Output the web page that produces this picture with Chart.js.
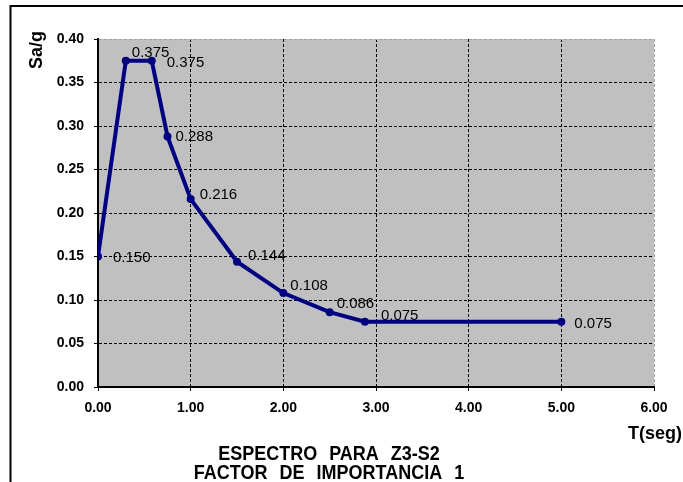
<!DOCTYPE html>
<html>
<head>
<meta charset="utf-8">
<script src="https://cdn.jsdelivr.net/npm/chart.js@4/dist/chart.umd.min.js"></script>
<style>
  html, body { margin: 0; padding: 0; background: #fff; }
  #wrap { width: 683px; height: 482px; position: relative; }
</style>
</head>
<body>
<div id="wrap"><canvas id="myChart" width="683" height="482"></canvas></div>
<script>
const periods = [0.00, 0.30, 0.58, 0.75, 1.00, 1.50, 2.00, 2.50, 2.88, 5.00];
const saValues = [0.150, 0.375, 0.375, 0.288, 0.216, 0.144, 0.108, 0.086, 0.075, 0.075];
const titleLines = ["ESPECTRO PARA Z3-S2", "FACTOR DE IMPORTANCIA 1"];
const xTitle = "T(seg)";
const yTitle = "Sa/g";
// where each value label sits relative to its point (px), like the Excel layout
const labelShift = [[15, 1], [6, -8], [15, 2], [8, 0], [9, -4], [11, -6], [7, -7], [7, -8], [16, -6], [13, 2]];

const canvas = document.getElementById("myChart");
const ctx = canvas.getContext('2d');

const points = [];
for (let i = 0; i < periods.length; i++) {
  points.push({x: periods[i], y: saValues[i]});
}

// gray plot area + outer frame + texts
const decor = {
  id: 'decor',
  beforeDraw(chart) {
    const c = chart.ctx, a = chart.chartArea;
    c.save();
    c.fillStyle = '#fff';
    c.fillRect(0, 0, chart.width, chart.height);
    c.fillStyle = '#c0c0c0';
    c.fillRect(a.left, a.top, a.right - a.left, a.bottom - a.top);
    c.restore();
  },
  afterDraw(chart) {
    const c = chart.ctx;
    c.save();
    // frame
    c.strokeStyle = '#000';
    c.lineWidth = 2;
    c.beginPath();
    c.moveTo(10.5, chart.height + 5);
    c.lineTo(10.5, 6);
    c.lineTo(chart.width + 5, 6);
    c.stroke();
    c.fillStyle = '#000';
    c.font = 'bold 18px "Liberation Sans", Arial, sans-serif';
    c.textAlign = 'center';
    c.textBaseline = 'middle';
    c.wordSpacing = '7px';
    // title a bit taller than wide, as in the original
    const lineY = [454, 473];
    titleLines.forEach((t, i) => {
      c.save();
      c.translate(329, lineY[i]);
      c.scale(1, 1.12);
      c.fillText(t, 0, 0);
      c.restore();
    });
    c.wordSpacing = '0px';
    c.textAlign = 'right';
    c.fillText(xTitle, 682, 434);
    c.translate(37, 50);
    c.rotate(-Math.PI / 2);
    c.textAlign = 'center';
    c.fillText(yTitle, 0, 0);
    c.restore();
  }
};

// value labels next to each point
const valueLabels = {
  id: 'valueLabels',
  afterDatasetsDraw(chart) {
    const c = chart.ctx;
    const meta = chart.getDatasetMeta(0);
    c.save();
    c.fillStyle = '#000';
    c.font = '15px "Liberation Sans", Arial, sans-serif';
    c.textAlign = 'left';
    c.textBaseline = 'middle';
    meta.data.forEach((p, i) => {
      const s = labelShift[i] || [10, -3];
      c.fillText(saValues[i].toFixed(3), p.x + s[0], p.y + s[1]);
    });
    c.restore();
  }
};

const tickFont = {family: '"Liberation Sans", Arial, sans-serif', size: 14, weight: 'bold'};

const myChart = new Chart(ctx, {
  type: 'scatter',
  data: {
    datasets: [{
      label: 'Espectro',
      data: points,
      showLine: true,
      borderColor: '#000080',
      backgroundColor: '#000080',
      borderWidth: 4,
      pointRadius: 2,
      pointHoverRadius: 2,
      tension: 0
    }]
  },
  options: {
    responsive: false,
    animation: false,
    events: [],
    layout: {padding: {top: 39, right: 29, left: 0, bottom: 0}},
    plugins: {legend: {display: false}, tooltip: {enabled: false}},
    scales: {
      x: {
        type: 'linear',
        min: 0, max: 6,
        afterFit(scale) { scale.height = 95; },
        ticks: {stepSize: 1, color: '#000', font: tickFont, padding: 9, maxRotation: 0,
                callback: v => v.toFixed(2)},
        grid: {
          color: c => c.tick && c.tick.value === 6 ? '#a0a0a0' : '#000',
          tickLength: 4,
          tickColor: '#000',
          tickBorderDash: []
        },
        border: {display: true, color: '#000', width: 2, dash: [3, 2]}
      },
      y: {
        min: 0, max: 0.4,
        afterFit(scale) { scale.width = 98; },
        ticks: {stepSize: 0.05, color: '#000', font: tickFont, padding: 10,
                callback: v => v.toFixed(2)},
        grid: {
          color: c => c.tick && Math.abs(c.tick.value - 0.4) < 1e-6 ? '#a0a0a0' : '#000',
          tickLength: 4,
          tickColor: '#000',
          tickBorderDash: []
        },
        border: {display: true, color: '#000', width: 2, dash: [3, 2]}
      }
    }
  },
  plugins: [decor, valueLabels]
});
</script>
</body>
</html>
